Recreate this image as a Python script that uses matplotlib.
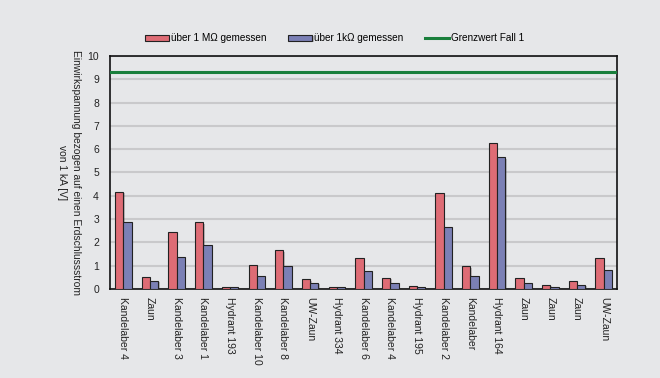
import matplotlib
matplotlib.use("Agg")
import matplotlib.pyplot as plt
import matplotlib.patheffects as pe
import numpy as np

plt.rcParams["font.family"] = ["Liberation Sans", "DejaVu Sans"]

BG = "#E6E7E9"
RED = "#DE6C75"
BLUE = "#7B80B5"
GREEN = "#1A7F3C"

labels = ["Kandelaber 4", "Zaun", "Kandelaber 3", "Kandelaber 1", "Hydrant 193",
          "Kandelaber 10", "Kandelaber 8", "UW-Zaun", "Hydrant 334", "Kandelaber 6",
          "Kandelaber 4", "Hydrant 195", "Kandelaber 2", "Kandelaber", "Hydrant 164",
          "Zaun", "Zaun", "Zaun", "UW-Zaun"]
val_1M = [4.18, 0.53, 2.43, 2.86, 0.08, 1.03, 1.66, 0.41, 0.08, 1.32,
          0.47, 0.14, 4.11, 0.97, 6.28, 0.47, 0.19, 0.34, 1.32]
val_1k = [2.86, 0.34, 1.39, 1.89, 0.08, 0.56, 0.97, 0.27, 0.08, 0.76,
          0.27, 0.08, 2.65, 0.54, 5.65, 0.27, 0.08, 0.19, 0.83]
grenzwert = 9.3

fig = plt.figure(figsize=(6.6, 3.78), dpi=100, facecolor=BG)
ax = fig.add_axes([0.1667, 0.2354, 0.7683, 0.6166], facecolor=BG)

x = np.arange(len(labels))
w = 0.31
shadow = [pe.SimplePatchShadow(offset=(1, -1), alpha=0.25), pe.Normal()]
b1 = ax.bar(x - w / 2, val_1M, width=w, color=RED, edgecolor="#222222", lw=0.8,
            label="über 1 MΩ gemessen", zorder=3)
b2 = ax.bar(x + w / 2, val_1k, width=w, color=BLUE, edgecolor="#222222", lw=0.8,
            label="über 1kΩ gemessen", zorder=3)
for p in list(b1) + list(b2):
    p.set_path_effects(shadow)
gl = ax.axhline(grenzwert, color=GREEN, lw=2.2, label="Grenzwert Fall 1", zorder=4)

ax.set_xlim(-0.5, len(labels) - 0.5)
ax.set_ylim(0, 10)
ax.set_yticks(range(0, 11))
ax.yaxis.grid(True, color="#C9C9CB", lw=1.5, zorder=0)
ax.set_axisbelow(True)
ax.set_xticks(x)
ax.set_xticklabels(labels, rotation=270, fontsize=7.5, va="top", ha="center")
ax.tick_params(axis="both", length=0, labelsize=7.5, colors="#222222")
ax.tick_params(axis="x", pad=6)
ax.tick_params(axis="y", pad=8)
for s in ax.spines.values():
    s.set_color("#111111")
    s.set_linewidth(1.2)
    s.set_zorder(2)

fig.text(0.1045, 0.544, "Einwirkspannung bezogen auf einen Erdschlussstrom\nvon 1 kA [V]",
         rotation=270, fontsize=7.4, ha="center", va="center", multialignment="center",
         color="#222222", linespacing=1.5)

ax.legend(handles=[b1, b2, gl], loc="lower center", bbox_to_anchor=(0.443, 1.015), ncol=3,
          frameon=False, fontsize=7.2, handlelength=2.4, handleheight=0.6,
          handletextpad=0.2, columnspacing=2.2)

fig.savefig("out.png", dpi=100, facecolor=BG)
